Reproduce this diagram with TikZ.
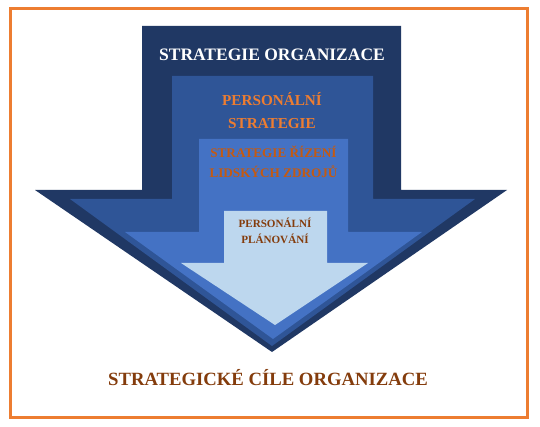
\documentclass[tikz,border=0pt]{standalone}
\usepackage{fontspec}
\setmainfont{Liberation Serif}
\definecolor{frameor}{HTML}{ED7D31}
\definecolor{lay1}{HTML}{203864}
\definecolor{lay2}{HTML}{2F5597}
\definecolor{lay3}{HTML}{4472C4}
\definecolor{lay4}{HTML}{BDD7EE}
\definecolor{txtor}{HTML}{ED7D31}
\definecolor{txtor2}{HTML}{C55A11}
\definecolor{txtbr}{HTML}{843C0C}
\tikzset{
  layer/.style={fill=#1, draw=none},
  lbl/.style={font=\bfseries, align=center, inner sep=0pt}
}
\begin{document}
\begin{tikzpicture}[x=1pt,y=-1pt]
\useasboundingbox (0,0) rectangle (540,427);
\fill[white] (0,0) rectangle (540,427);
\draw[frameor, line width=3pt] (10,9) rectangle (527,417);
% layer 1
\fill[layer=lay1] (142,26) -- (401,26) -- (401,190) -- (507,190) -- (272,352) -- (35,190) -- (142,190) -- cycle;
% layer 2
\fill[layer=lay2] (172,76) -- (373,76) -- (373,199) -- (475,199) -- (272,346) -- (70,199) -- (172,199) -- cycle;
% layer 3
\fill[layer=lay3] (199,139) -- (348,139) -- (348,232) -- (422,232) -- (273,339) -- (125,232) -- (199,232) -- cycle;
% layer 4
\fill[layer=lay4] (224,211) -- (327,211) -- (327,263) -- (368,263) -- (275,325) -- (181,263) -- (224,263) -- cycle;
% texts
\node[lbl, text=white, font=\fontsize{17.5}{20}\selectfont\bfseries] (t1) at (272,55) {STRATEGIE ORGANIZACE};
\node[lbl, text=txtor, font=\fontsize{15.2}{23}\selectfont\bfseries] (t2) at (272,111) {PERSONÁLNÍ\\STRATEGIE};
\node[lbl, text=txtor2, font=\fontsize{13.2}{20}\selectfont\bfseries] (t3) at (273.5,162) {STRATEGIE ŘÍZENÍ\\LIDSKÝCH ZDROJŮ};
\node[lbl, text=txtbr, font=\fontsize{11.1}{16}\selectfont\bfseries] (t4) at (275,231) {PERSONÁLNÍ\\PLÁNOVÁNÍ};
\node[lbl, text=txtbr, font=\fontsize{18.7}{22}\selectfont\bfseries] (t5) at (268,378) {STRATEGICKÉ CÍLE ORGANIZACE};
\end{tikzpicture}
\end{document}
